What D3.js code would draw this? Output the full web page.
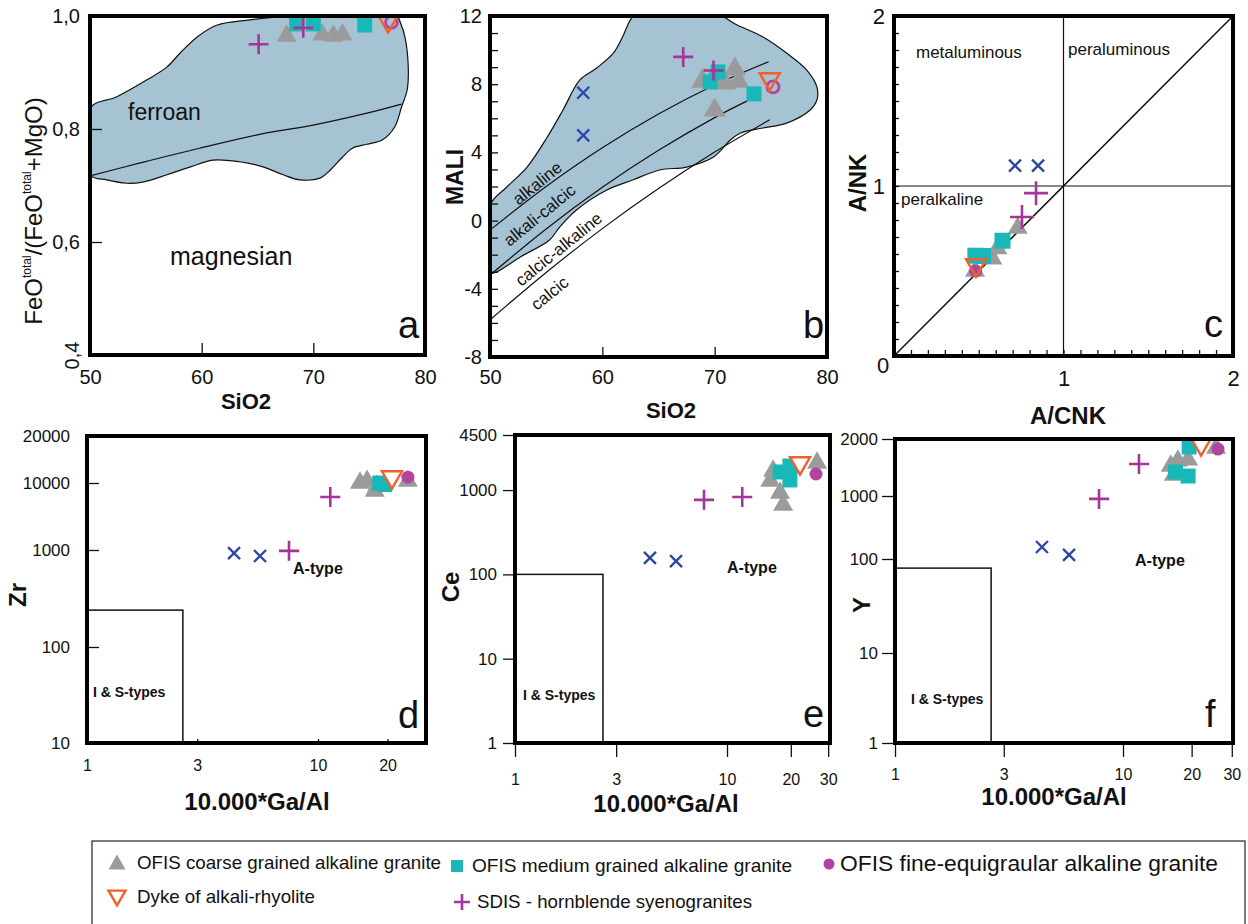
<!DOCTYPE html>
<html>
<head>
<meta charset="utf-8">
<script src="https://cdn.jsdelivr.net/npm/d3@7"></script>
<style>
  body { margin: 0; background: #fff; }
  text { font-family: "Liberation Sans", Arial, sans-serif; fill: #111; }
</style>
</head>
<body>
<script>
// ---------- data ----------
var legendLabels = [
  ["coarse", "OFIS coarse grained alkaline granite"],
  ["medium", "OFIS medium grained alkaline granite"],
  ["fine", "OFIS fine-equigraular alkaline granite"],
  ["dyke", "Dyke of alkali-rhyolite"],
  ["syeno", "SDIS - hornblende syenogranites"]
];

// a: SiO2 vs FeOt/(FeOt+MgO)
var ptsA = [
  ["coarse", 67.6, 0.970], ["coarse", 70.8, 0.972], ["coarse", 71.8, 0.970], ["coarse", 72.6, 0.972],
  ["medium", 68.5, 0.986], ["medium", 70.0, 0.986], ["medium", 74.6, 0.984],
  ["syeno", 65.1, 0.950], ["syeno", 69.1, 0.979],
  ["fine", 77.0, 0.989], ["dyke", 76.7, 0.986]
];
var ferroanField = [
  [50, 0.837], [52.4, 0.857], [55.1, 0.887], [56.9, 0.910], [58.1, 0.935], [59.6, 0.963], [61.4, 0.984],
  [64.3, 0.993], [67.3, 0.999], [77.5, 0.999], [77.8, 0.988], [78.2, 0.963], [78.5, 0.910], [78.4, 0.869],
  [77.9, 0.839], [77.3, 0.804], [76.2, 0.781], [74.8, 0.773], [73.5, 0.766], [72.6, 0.750], [71.5, 0.727],
  [70.6, 0.713], [68.8, 0.710], [67.3, 0.719], [65.5, 0.733], [63.4, 0.742], [61.0, 0.745], [59.0, 0.733],
  [56.9, 0.719], [54.7, 0.706], [53.3, 0.704], [51.5, 0.710], [50, 0.719]
];
var ferroanDivider = [[50, 0.717], [54.5, 0.740], [59.8, 0.766], [65.8, 0.793], [70.0, 0.807], [74.8, 0.828], [77.9, 0.844]];

// b: SiO2 vs MALI
var ptsB = [
  ["coarse", 68.9, 8.36], ["coarse", 69.8, 8.48], ["coarse", 70.9, 8.25], ["coarse", 71.8, 9.07], ["coarse", 72.1, 8.36], ["coarse", 70.0, 6.66],
  ["medium", 70.3, 8.72], ["medium", 69.6, 8.13], ["medium", 73.5, 7.43],
  ["syeno", 67.2, 9.6], ["syeno", 69.9, 8.8],
  ["other", 58.3, 7.5], ["other", 58.3, 5.0],
  ["fine", 75.2, 7.84], ["dyke", 74.9, 8.13]
];
var maliField = [
  [50, 0.9], [51.5, 1.97], [53.3, 3.14], [55.1, 4.9], [56.5, 6.49], [58.0, 8.25], [59.5, 8.95], [61.0, 9.83],
  [61.8, 10.77], [62.5, 11.77], [63.1, 12.2], [69.9, 12.2], [72.0, 11.47], [74.3, 10.77], [76.4, 9.83],
  [78.2, 8.83], [79.1, 7.84], [79.1, 7.07], [78.5, 6.49], [76.4, 5.72], [74.3, 5.43], [72.3, 5.14],
  [71.4, 4.73], [69.9, 3.73], [67.5, 3.14], [65.1, 2.97], [62.7, 2.38], [60.4, 1.79], [57.7, 0.62],
  [56.2, -0.38], [55.3, -1.14], [52.7, -2.13], [50.6, -3.0], [50, -3.07]
];
var maliLines = [
  [[50, -0.56], [55, 2.0], [60, 4.27], [65, 6.25], [70, 7.95], [74.8, 9.32]],
  [[50, -3.2], [55, -0.49], [60, 1.95], [65, 4.12], [70, 6.04], [72.9, 7.02]],
  [[50, -5.82], [55, -3.04], [60, -0.47], [65, 1.88], [70, 4.02], [74.9, 5.91]]
];

// c: A/CNK vs A/NK
var ptsC = [
  ["coarse", 0.73, 0.77], ["coarse", 0.61, 0.65], ["coarse", 0.58, 0.59], ["coarse", 0.478, 0.518],
  ["medium", 0.64, 0.678], ["medium", 0.525, 0.588], ["medium", 0.48, 0.59],
  ["syeno", 0.838, 0.958], ["syeno", 0.755, 0.818],
  ["other", 0.714, 1.12], ["other", 0.85, 1.12],
  ["fine", 0.482, 0.50], ["dyke", 0.484, 0.518]
];

// d: Ga/Al vs Zr
var ptsD = [
  ["coarse", 15.2, 10450], ["coarse", 16.3, 10740], ["coarse", 18.0, 10000], ["coarse", 17.6, 8420], ["coarse", 24.5, 10740],
  ["medium", 18.5, 10000], ["medium", 19.4, 9500],
  ["syeno", 7.49, 980], ["syeno", 11.3, 6180],
  ["other", 4.33, 930], ["other", 5.61, 867],
  ["dyke", 20.9, 10450], ["fine", 24.5, 10900]
];
// e: Ga/Al vs Ce
var ptsE = [
  ["coarse", 16.5, 1830], ["coarse", 16.0, 1390], ["coarse", 17.8, 1000], ["coarse", 18.4, 722], ["coarse", 26.6, 2277],
  ["medium", 17.8, 1640], ["medium", 19.8, 1318], ["medium", 19.8, 1930],
  ["syeno", 7.79, 766], ["syeno", 11.8, 828],
  ["other", 4.33, 157], ["other", 5.75, 144],
  ["dyke", 22.1, 1930], ["fine", 26.3, 1550]
];
// f: Ga/Al vs Y
var ptsF = [
  ["coarse", 16.2, 1495], ["coarse", 17.4, 1590], ["coarse", 19.3, 1610], ["coarse", 16.7, 1340], ["coarse", 25.6, 1860],
  ["medium", 17.0, 1340], ["medium", 19.3, 1275], ["medium", 19.5, 1815],
  ["syeno", 7.85, 900], ["syeno", 11.75, 1475],
  ["other", 4.41, 155], ["other", 5.8, 116],
  ["dyke", 22.0, 1815], ["fine", 26.1, 1770]
];
// I & S-type boxes [Ga/Al max, element max]
var isBoxD = [2.6, 240];
var isBoxE = [2.6, 100];
var isBoxF = [2.64, 80];

// ticks
var ticksSiO2 = [50, 60, 70, 80];
var ticksFe = [0.4, 0.6, 0.8, 1.0];
var ticksMali = d3.range(-8, 13, 1);
var ticksC = d3.range(0, 2.01, 0.1);
var ticksGaD = [1, 3, 10, 20];
var ticksGa = [1, 3, 10, 20, 30];
var ticksZr = [10, 100, 1000, 10000, 20000];
var ticksCe = [1, 10, 100, 1000, 4500];
var ticksY = [1, 10, 100, 1000, 2000];

// ---------- drawing ----------
var W = 1248, H = 924;
var svg = d3.select("body").append("svg").attr("width", W).attr("height", H);

var colors = { coarse: "#9b9b9b", medium: "#19b8b8", fine: "#b3449e", dyke: "#f0602a", syeno: "#a3359b", other: "#2c48a6" };

function triPath(w, down) {
  var h = w * 0.87;
  return down ? "M0," + (h/2) + "L" + (w/2) + "," + (-h/2) + "L" + (-w/2) + "," + (-h/2) + "Z"
              : "M0," + (-h/2) + "L" + (w/2) + "," + (h/2) + "L" + (-w/2) + "," + (h/2) + "Z";
}
function marker(g, kind, x, y, o) {
  o = o || {};
  if (kind == "coarse") {
    g.append("path").attr("d", triPath(o.tri || 20)).attr("transform", "translate(" + x + "," + y + ")").attr("fill", colors.coarse);
  } else if (kind == "medium") {
    var s = o.sq || 15;
    g.append("rect").attr("x", x - s/2).attr("y", y - s/2).attr("width", s).attr("height", s).attr("fill", colors.medium);
  } else if (kind == "fine") {
    if (o.ring) g.append("circle").attr("cx", x).attr("cy", y).attr("r", 6).attr("fill", "none").attr("stroke", colors.fine).attr("stroke-width", 2.8);
    else g.append("circle").attr("cx", x).attr("cy", y).attr("r", o.r || 6.5).attr("fill", colors.fine);
  } else if (kind == "dyke") {
    g.append("path").attr("d", triPath(o.dy || 20, true)).attr("transform", "translate(" + x + "," + y + ")")
      .attr("fill", o.dykeFill || "none").attr("stroke", colors.dyke).attr("stroke-width", 2.4);
  } else if (kind == "syeno") {
    var p = (o.plus || 20) / 2;
    g.append("path").attr("d", "M" + (x-p) + "," + y + "H" + (x+p) + "M" + x + "," + (y-p) + "V" + (y+p))
      .attr("stroke", colors.syeno).attr("stroke-width", 2.6).attr("fill", "none");
  } else if (kind == "other") {
    var q = 6;
    g.append("path").attr("d", "M" + (x-q) + "," + (y-q) + "L" + (x+q) + "," + (y+q) + "M" + (x-q) + "," + (y+q) + "L" + (x+q) + "," + (y-q))
      .attr("stroke", colors.other).attr("stroke-width", 2.4).attr("fill", "none");
  }
}
var drawOrder = ["coarse", "medium", "syeno", "other", "fine", "dyke"];
function drawPoints(g, pts, sx, sy, o) {
  drawOrder.forEach(function(k) {
    pts.filter(function(p) { return p[0] == k; }).forEach(function(p) { marker(g, k, sx(p[1]), sy(p[2]), o); });
  });
}
function frame(sx, sy) {
  var x0 = sx.range()[0], x1 = sx.range()[sx.range().length - 1];
  return { x: x0, y: sy.range()[sy.range().length - 1], w: x1 - x0, h: sy.range()[0] - sy.range()[sy.range().length - 1] };
}
function drawFrame(f) {
  svg.append("rect").attr("x", f.x).attr("y", f.y).attr("width", f.w).attr("height", f.h)
    .attr("fill", "none").attr("stroke", "#000").attr("stroke-width", 4);
}
function clip(id, f) {
  svg.append("clipPath").attr("id", id).append("rect").attr("x", f.x).attr("y", f.y).attr("width", f.w).attr("height", f.h);
}
function styleAxis(g, size) {
  g.attr("font-family", null).attr("font-size", size);
  g.select(".domain").remove();
  g.selectAll(".tick line").attr("stroke", "#111").attr("stroke-width", 1.3);
  g.selectAll("text").attr("fill", "#222");
}
function label(txt, x, y, size, opts) {
  opts = opts || {};
  var t = svg.append("text").attr("x", x).attr("y", y).attr("font-size", size).text(txt);
  if (opts.bold) t.attr("font-weight", "bold");
  if (opts.anchor) t.attr("text-anchor", opts.anchor);
  if (opts.rot) t.attr("transform", "rotate(" + opts.rot + "," + x + "," + y + ")");
  return t;
}
var comma = function(d) { return d3.format(".1f")(d).replace(".", ","); };

// ----- panel a -----
var xA = d3.scaleLinear().domain([50, 80]).range([90, 425]);
var yA = d3.scaleLinear().domain([0.4, 1.0]).range([355, 16]);
var fA = frame(xA, yA);
clip("clipA", fA);
var gA = svg.append("g").attr("clip-path", "url(#clipA)");
gA.append("path").datum(ferroanField)
  .attr("d", d3.line().x(function(d) { return xA(d[0]); }).y(function(d) { return yA(d[1]); }).curve(d3.curveCatmullRomClosed))
  .attr("fill", "#a6c3d3").attr("stroke", "#111").attr("stroke-width", 1.2);
gA.append("path").datum(ferroanDivider)
  .attr("d", d3.line().x(function(d) { return xA(d[0]); }).y(function(d) { return yA(d[1]); }).curve(d3.curveCatmullRom))
  .attr("fill", "none").attr("stroke", "#111").attr("stroke-width", 1.2);
var axA = svg.append("g").attr("transform", "translate(90,0)")
  .call(d3.axisLeft(yA).tickValues(ticksFe).tickSizeInner(-12).tickSizeOuter(0).tickPadding(10).tickFormat(comma));
styleAxis(axA, 20);
axA.selectAll(".tick").filter(function(d) { return d == 0.4; }).select("text")
  .attr("transform", "rotate(-90)").attr("x", 0).attr("y", -18).attr("dy", "0.35em").attr("text-anchor", "middle");
var axAb = svg.append("g").attr("transform", "translate(0,355)")
  .call(d3.axisBottom(xA).tickValues(ticksSiO2).tickSizeInner(-12).tickSizeOuter(0).tickPadding(15));
styleAxis(axAb, 20);
drawPoints(gA, ptsA, xA, yA, { ring: true, tri: 20 });
drawFrame(fA);
label("ferroan", 128, 120, 23);
label("magnesian", 170, 265, 25);
label("a", 398, 338, 38);
label("SiO2", 246, 409, 22, { bold: true, anchor: "middle" });
var feo = svg.append("text").attr("transform", "translate(42,211) rotate(-90)").attr("text-anchor", "middle").attr("font-size", 24);
feo.append("tspan").text("FeO");
feo.append("tspan").attr("font-size", 12).attr("dy", -11).text("total");
feo.append("tspan").attr("dy", 11).text("/(FeO");
feo.append("tspan").attr("font-size", 12).attr("dy", -11).text("total");
feo.append("tspan").attr("dy", 11).text("+MgO)");

// ----- panel b -----
var xB = d3.scaleLinear().domain([50, 80]).range([490, 827]);
var yB = d3.scaleLinear().domain([-8, 12]).range([357, 16]);
var fB = frame(xB, yB);
clip("clipB", fB);
var gB = svg.append("g").attr("clip-path", "url(#clipB)");
var lineB = d3.line().x(function(d) { return xB(d[0]); }).y(function(d) { return yB(d[1]); });
gB.append("path").datum(maliField).attr("d", lineB.curve(d3.curveCatmullRomClosed))
  .attr("fill", "#a6c3d3").attr("stroke", "#111").attr("stroke-width", 1.2);
maliLines.forEach(function(l) {
  gB.append("path").datum(l).attr("d", lineB.curve(d3.curveCatmullRom))
    .attr("fill", "none").attr("stroke", "#111").attr("stroke-width", 1.2);
});
var axB = svg.append("g").attr("transform", "translate(490,0)")
  .call(d3.axisLeft(yB).tickValues(ticksMali).tickSizeInner(-8).tickSizeOuter(0).tickPadding(8)
    .tickFormat(function(d) { return d % 4 == 0 ? d : ""; }));
styleAxis(axB, 20);
var axBb = svg.append("g").attr("transform", "translate(0,357)")
  .call(d3.axisBottom(xB).tickValues(ticksSiO2).tickSizeInner(-10).tickSizeOuter(0).tickPadding(13));
styleAxis(axBb, 20);
[["alkaline", 54.2, 2.2], ["alkali-calcic", 54.4, 0.33], ["calcic-alkaline", 56.1, -1.67], ["calcic", 55.3, -4.25]].forEach(function(t) {
  label(t[0], xB(t[1]), yB(t[2]), 17, { anchor: "middle", rot: -39 }).attr("dy", "0.35em");
});
drawPoints(gB, ptsB, xB, yB, { ring: true, tri: 22 });
drawFrame(fB);
label("b", 803, 338, 38);
label("SiO2", 671, 418, 22, { bold: true, anchor: "middle" });
label("MALI", 463, 177, 23, { bold: true, anchor: "middle", rot: -90 });

// ----- panel c -----
var xC = d3.scaleLinear().domain([0, 2]).range([894, 1233]);
var yC = d3.scaleLinear().domain([0, 2]).range([356, 16]);
var fC = frame(xC, yC);
var gC = svg.append("g");
gC.append("line").attr("x1", xC(1)).attr("x2", xC(1)).attr("y1", yC(0)).attr("y2", yC(2)).attr("stroke", "#111").attr("stroke-width", 1.2);
gC.append("line").attr("x1", xC(0)).attr("x2", xC(2)).attr("y1", yC(1)).attr("y2", yC(1)).attr("stroke", "#111").attr("stroke-width", 1.2);
gC.append("line").attr("x1", xC(0)).attr("x2", xC(2)).attr("y1", yC(0)).attr("y2", yC(2)).attr("stroke", "#111").attr("stroke-width", 1.5);
var intLabel = function(d) { return Math.abs(d - Math.round(d)) < 1e-6 && d > 0 ? Math.round(d) : ""; };
var axC = svg.append("g").attr("transform", "translate(894,0)")
  .call(d3.axisLeft(yC).tickValues(ticksC).tickSizeInner(-5).tickSizeOuter(0).tickPadding(9).tickFormat(intLabel));
styleAxis(axC, 22);
var axCb = svg.append("g").attr("transform", "translate(0,356)")
  .call(d3.axisBottom(xC).tickValues(ticksC).tickSizeInner(-6).tickSizeOuter(0).tickPadding(14).tickFormat(intLabel));
styleAxis(axCb, 22);
label("0", 883, 373, 22, { anchor: "middle" });
label("metaluminous", 916, 58, 17);
label("peraluminous", 1068, 55, 17);
label("peralkaline", 901, 205, 17);
drawPoints(gC, ptsC, xC, yC, { tri: 20, sq: 16, plus: 24 });
drawFrame(fC);
label("c", 1204, 337, 38);
label("A/CNK", 1068, 424, 24, { bold: true, anchor: "middle" });
label("A/NK", 866, 183, 24, { bold: true, anchor: "middle", rot: -90 });

// ----- panels d, e, f -----
function gaPanel(id, sx, sy, pts, box, ticksX, ticksYv, o) {
  var f = { x: o.fx0, y: sy.range()[sy.range().length - 1], w: o.fx1 - o.fx0, h: sy.range()[0] - sy.range()[sy.range().length - 1] };
  var g = svg.append("g");
  g.append("rect").attr("x", sx(1)).attr("y", sy(box[1])).attr("width", sx(box[0]) - sx(1)).attr("height", sy.range()[0] - sy(box[1]))
    .attr("fill", "none").attr("stroke", "#111").attr("stroke-width", 1.5);
  var ay = svg.append("g").attr("transform", "translate(" + o.fx0 + ",0)")
    .call(d3.axisLeft(sy).tickValues(ticksYv).tickSizeInner(o.tickY).tickSizeOuter(0).tickPadding(o.padY).tickFormat(d3.format("d")));
  styleAxis(ay, 17);
  var ax = svg.append("g").attr("transform", "translate(0," + sy.range()[0] + ")")
    .call(d3.axisBottom(sx).tickValues(ticksX).tickSizeInner(o.tickX).tickSizeOuter(0).tickPadding(o.padX).tickFormat(d3.format("d")));
  styleAxis(ax, 16);
  label("A-type", o.aType[0], o.aType[1], 16, { bold: true });
  label("I & S-types", o.isT[0], o.isT[1], 14, { bold: true });
  drawPoints(g, pts, sx, sy, { tri: 20, sq: 15, plus: 20, dykeFill: "#fff" });
  drawFrame(f);
  label(id, o.letter[0], o.letter[1], 38);
  label("10.000*Ga/Al", o.xt[0], o.xt[1], 24, { bold: true, anchor: "middle" });
  label(o.yName, o.yt[0], o.yt[1], 24, { bold: true, anchor: "middle", rot: -90 });
}
var xD = d3.scaleLog().domain([1, 10]).range([87, 318]);
var yD = d3.scaleLog().domain([10, 100, 1000, 10000, 20000]).range([743, 647, 550, 483, 436]);
gaPanel("d", xD, yD, ptsD, isBoxD, ticksGaD, ticksZr,
  { fx0: 87, fx1: 426, tickY: -12, padY: 17, tickX: -4, padX: 17, aType: [293, 574], isT: [93, 697],
    letter: [398, 728], xt: [257, 810], yName: "Zr", yt: [26, 595] });
var xE = d3.scaleLog().domain([1, 10]).range([515, 727]);
var yE = d3.scaleLog().domain([1, 4500]).range([743, 435]);
gaPanel("e", xE, yE, ptsE, isBoxE, ticksGa, ticksCe,
  { fx0: 515, fx1: 830, tickY: 12, padY: 6, tickX: 14, padX: 17, aType: [727, 573], isT: [523, 700],
    letter: [803, 727], xt: [666, 812], yName: "Ce", yt: [459, 587] });
var xF = d3.scaleLog().domain([1, 10]).range([895, 1123]);
var yF = d3.scaleLog().domain([1, 10, 100, 1000, 2000]).range([743, 653, 559, 496, 439]);
gaPanel("f", xF, yF, ptsF, isBoxF, ticksGa, ticksY,
  { fx0: 895, fx1: 1233, tickY: 13, padY: 4, tickX: 14, padX: 12, aType: [1135, 566], isT: [911, 704],
    letter: [1205, 727], xt: [1054, 805], yName: "Y", yt: [870, 605] });

// ----- legend -----
var lg = svg.append("g");
lg.append("rect").attr("x", 92).attr("y", 841).attr("width", 1153).attr("height", 120)
  .attr("fill", "none").attr("stroke", "#333").attr("stroke-width", 1.3);
var legendPos = {
  coarse: { m: [117, 862], t: [137, 869], s: 19, w: 304 },
  medium: { m: [457, 866], t: [472, 872], s: 19, w: 320 },
  fine:   { m: [829, 864], t: [840, 871], s: 22, w: 378 },
  dyke:   { m: [117, 898], t: [137, 903], s: 19, w: 178 },
  syeno:  { m: [462, 902], t: [477, 908], s: 19, w: 275 }
};
legendLabels.forEach(function(l) {
  var p = legendPos[l[0]];
  marker(lg, l[0], p.m[0], p.m[1], { tri: 17, sq: 12, r: 5.5, plus: 16, dy: 17 });
  lg.append("text").attr("x", p.t[0]).attr("y", p.t[1]).attr("font-size", p.s)
    .attr("textLength", p.w).attr("lengthAdjust", "spacingAndGlyphs")
    .style("font-family", '"Liberation Sans Narrow", "Arial Narrow", sans-serif').text(l[1]);
});
</script>
</body>
</html>
